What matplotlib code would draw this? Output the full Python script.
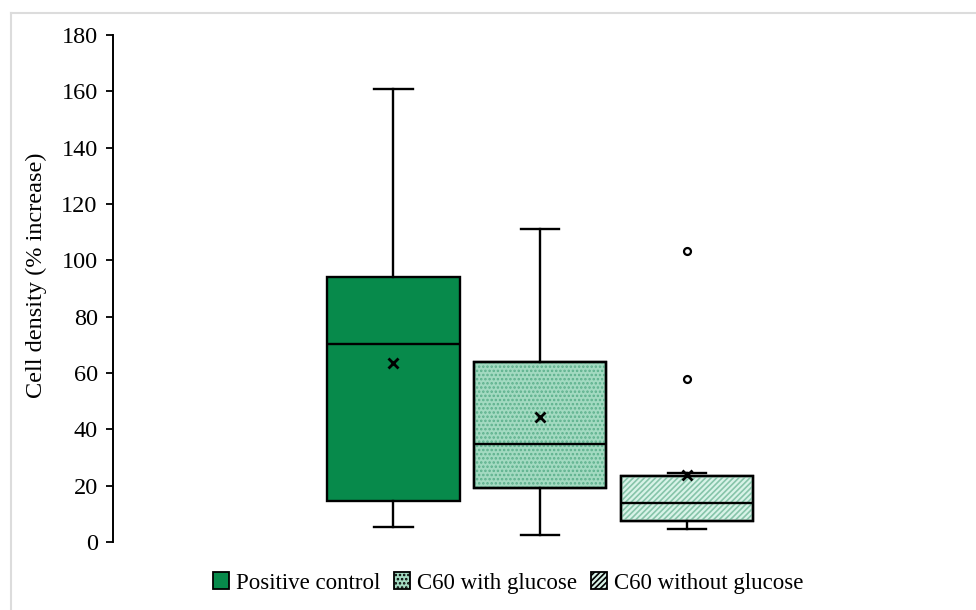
import matplotlib
matplotlib.use("Agg")
import matplotlib.pyplot as plt
from matplotlib.patches import PathPatch, Patch
from matplotlib.lines import Line2D

plt.rcParams['font.family'] = ['Liberation Serif', 'DejaVu Serif']

# Box-plot summary values (cell density, % increase)
groups = ["Positive control", "C60 with glucose", "C60 without glucose"]
whisker_low = [5.3, 2.5, 4.5]
q1 = [14.6, 19.2, 7.6]
median = [70.3, 34.8, 13.7]
q3 = [94.1, 63.9, 23.5]
whisker_high = [160.8, 111.1, 24.4]
mean = [63.5, 44.4, 23.8]
outliers = [[], [], [103.3, 57.9]]

yticks = [0, 20, 40, 60, 80, 100, 120, 140, 160, 180]

face_colors = ["#078a4b", "#a3dac1", "#d8f3e8"]
hatch_colors = [None, "#5cb08c", "#86c4a9"]
hatches = [None, "....", "//////"]

stats = []
for i, name in enumerate(groups):
    stats.append(dict(label=name, whislo=whisker_low[i], q1=q1[i], med=median[i],
                      q3=q3[i], whishi=whisker_high[i], mean=mean[i],
                      fliers=outliers[i]))

fig = plt.figure(figsize=(9.76, 6.10), dpi=100)
ax = fig.add_axes([113 / 976, 68 / 610, (969 - 113) / 976, 507 / 610])

positions = [1, 2, 3]
lw = 1.7
bp = ax.bxp(stats, positions=positions, widths=0.9, patch_artist=True,
            showmeans=True, showfliers=True,
            boxprops=dict(linewidth=lw, edgecolor="black"),
            whiskerprops=dict(linewidth=lw, color="black"),
            capprops=dict(linewidth=lw, color="black"),
            medianprops=dict(linewidth=lw, color="black"),
            meanprops=dict(marker="x", markeredgecolor="black", markersize=7.5,
                           markeredgewidth=2),
            flierprops=dict(marker="o", markerfacecolor="white",
                            markeredgecolor="black", markersize=5,
                            markeredgewidth=1.6),
            capwidths=0.26)

plt.rcParams['hatch.linewidth'] = 1.2
for i, box in enumerate(bp["boxes"]):
    box.set_facecolor(face_colors[i])
    box.set_zorder(2)
    if hatches[i]:
        overlay = PathPatch(box.get_path(), transform=box.get_transform(),
                            facecolor="none", edgecolor=hatch_colors[i],
                            hatch=hatches[i], linewidth=0, zorder=2.1)
        ax.add_patch(overlay)
        outline = PathPatch(box.get_path(), transform=box.get_transform(),
                            facecolor="none", edgecolor="black",
                            linewidth=lw, zorder=2.2)
        ax.add_patch(outline)
for key in ("medians", "whiskers", "caps", "means", "fliers"):
    for art in bp[key]:
        art.set_zorder(3)

ax.set_xlim(-0.91, 4.92)
ax.set_ylim(0, 180)
ax.set_yticks(yticks)
ax.set_xticks([])
for side in ("top", "right", "bottom"):
    ax.spines[side].set_visible(False)
ax.spines["left"].set_linewidth(1.4)
ax.tick_params(axis="y", direction="out", length=5, width=1.3, labelsize=17.5, pad=6)
ax.set_ylabel("Cell density (% increase)", fontsize=17.5, va="center")
ax.yaxis.set_label_coords(-0.089, 0.527)

handles = []
for i, name in enumerate(groups):
    handles.append(Patch(facecolor=face_colors[i], edgecolor="black",
                         hatch=hatches[i] if hatches[i] else None,
                         linewidth=1.3, label=name))
leg = fig.legend(handles=handles, loc="center", bbox_to_anchor=(508 / 976, 1 - 583 / 610),
                 ncol=3, frameon=False, fontsize=16.5, handlelength=0.7,
                 handleheight=0.7, handletextpad=0.3, columnspacing=0.6,
                 borderaxespad=0)

# Thin grey frame along top and left edge
fig.add_artist(Line2D([10.5 / 976, 1], [1 - 13 / 610, 1 - 13 / 610],
                      transform=fig.transFigure, color="#dcdcdc", linewidth=1.5))
fig.add_artist(Line2D([10.5 / 976, 10.5 / 976], [0, 1 - 13 / 610],
                      transform=fig.transFigure, color="#dcdcdc", linewidth=1.5))

fig.savefig("out.png", dpi=100, facecolor="white")
